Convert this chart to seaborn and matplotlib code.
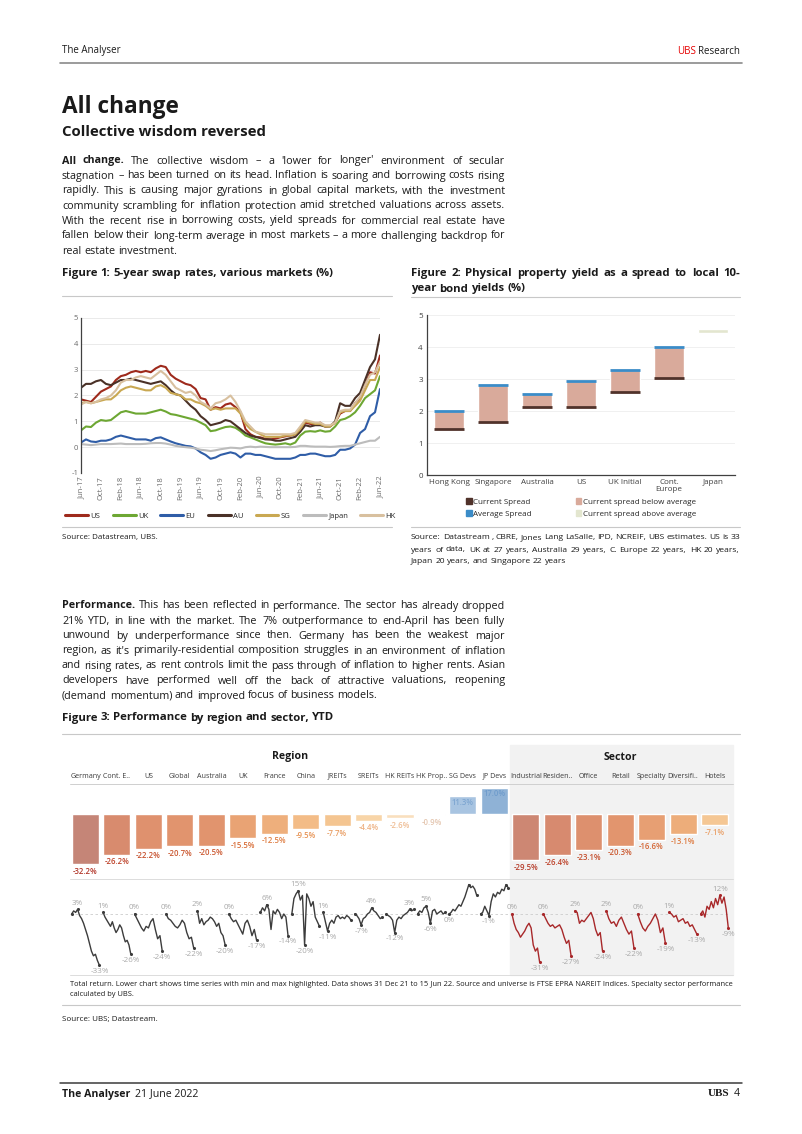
import numpy as np
import pandas as pd
import matplotlib
matplotlib.use("Agg")
import matplotlib.pyplot as plt
import seaborn as sns
from matplotlib.lines import Line2D
from matplotlib.patches import Rectangle, Patch
from matplotlib.colors import LinearSegmentedColormap, Normalize
import matplotlib.transforms as mtransforms

# ---------------- data ----------------
# Figure 1: 5-year swap rates, monthly Jun-17 .. Jun-22
tick_labels = ["Jun-17", "Oct-17", "Feb-18", "Jun-18", "Oct-18", "Feb-19", "Jun-19", "Oct-19",
               "Feb-20", "Jun-20", "Oct-20", "Feb-21", "Jun-21", "Oct-21", "Feb-22", "Jun-22"]
us = [1.85, 1.80, 1.75, 1.95, 2.15, 2.25, 2.35,
      2.60, 2.75, 2.80, 2.90, 2.95, 2.90, 2.95, 2.90, 3.05, 3.15, 3.10, 2.80,
      2.65, 2.55, 2.45, 2.40, 2.25, 1.90, 1.85, 1.45, 1.55, 1.50, 1.65, 1.70,
      1.55, 1.35, 0.70, 0.50, 0.40, 0.38, 0.32, 0.30, 0.33, 0.38, 0.42, 0.45,
      0.50, 0.70, 0.95, 0.90, 0.88, 0.95, 0.80, 0.82, 0.95, 1.30, 1.40, 1.40,
      1.70, 1.90, 2.40, 2.90, 2.85, 3.55]
uk = [0.65, 0.80, 0.78, 0.95, 1.05, 1.02, 1.05,
      1.20, 1.35, 1.40, 1.35, 1.30, 1.30, 1.30, 1.35, 1.40, 1.45, 1.38, 1.28,
      1.25, 1.20, 1.15, 1.10, 1.05, 0.95, 0.85, 0.62, 0.65, 0.72, 0.78, 0.80,
      0.75, 0.62, 0.45, 0.38, 0.30, 0.22, 0.15, 0.12, 0.10, 0.12, 0.15, 0.10,
      0.18, 0.45, 0.60, 0.62, 0.60, 0.65, 0.60, 0.62, 0.80, 1.05, 1.10, 1.20,
      1.35, 1.60, 1.90, 2.05, 2.20, 2.75]
eu = [0.18, 0.30, 0.22, 0.20, 0.25, 0.25, 0.30,
      0.40, 0.45, 0.40, 0.35, 0.30, 0.30, 0.30, 0.25, 0.35, 0.38, 0.30, 0.22,
      0.15, 0.10, 0.05, 0.03, -0.05, -0.20, -0.30, -0.45, -0.40, -0.30, -0.25, -0.20,
      -0.25, -0.40, -0.25, -0.25, -0.30, -0.30, -0.35, -0.40, -0.45, -0.45, -0.45, -0.45,
      -0.40, -0.30, -0.30, -0.25, -0.25, -0.30, -0.35, -0.35, -0.30, -0.10, -0.10, -0.05,
      0.10, 0.55, 0.70, 1.20, 1.35, 2.25]
au = [2.30, 2.45, 2.45, 2.55, 2.60, 2.45, 2.40,
      2.50, 2.60, 2.60, 2.65, 2.60, 2.55, 2.50, 2.45, 2.50, 2.55, 2.40, 2.20,
      2.05, 2.00, 1.80, 1.60, 1.45, 1.20, 1.05, 0.85, 0.90, 0.95, 1.05, 1.00,
      0.85, 0.70, 0.55, 0.45, 0.40, 0.35, 0.30, 0.30, 0.25, 0.25, 0.30, 0.35,
      0.40, 0.60, 0.85, 0.80, 0.85, 0.85, 0.80, 0.80, 1.00, 1.70, 1.60, 1.60,
      1.90, 2.10, 2.60, 3.10, 3.40, 4.35]
sg = [1.70, 1.75, 1.70, 1.75, 1.80, 1.85, 1.85,
      2.00, 2.20, 2.30, 2.35, 2.30, 2.25, 2.20, 2.20, 2.35, 2.40, 2.30, 2.10,
      2.05, 2.00, 1.85, 1.85, 1.75, 1.70, 1.60, 1.45, 1.50, 1.45, 1.50, 1.50,
      1.50, 1.30, 0.90, 0.70, 0.60, 0.50, 0.40, 0.40, 0.40, 0.40, 0.45, 0.45,
      0.50, 0.70, 1.00, 0.95, 0.90, 0.90, 0.80, 0.80, 0.95, 1.35, 1.40, 1.40,
      1.60, 1.80, 2.20, 2.60, 2.60, 3.10]
japan = [0.12, 0.10, 0.08, 0.10, 0.12, 0.12, 0.12,
         0.13, 0.14, 0.12, 0.12, 0.12, 0.12, 0.13, 0.15, 0.16, 0.16, 0.14, 0.10,
         0.05, 0.02, 0.00, -0.02, -0.05, -0.10, -0.12, -0.15, -0.12, -0.08, -0.05, -0.02,
         -0.03, -0.05, 0.00, 0.02, 0.00, 0.02, 0.01, 0.00, 0.00, 0.00, 0.00, 0.00,
         0.01, 0.05, 0.05, 0.03, 0.02, 0.02, 0.02, 0.01, 0.02, 0.04, 0.05, 0.05,
         0.10, 0.15, 0.20, 0.25, 0.25, 0.40]
hk = [1.65, 1.75, 1.70, 1.75, 1.85, 1.90, 2.00,
      2.20, 2.50, 2.60, 2.60, 2.70, 2.75, 2.70, 2.65, 2.80, 2.95, 2.80, 2.55,
      2.30, 2.20, 2.10, 2.15, 2.00, 1.75, 1.65, 1.50, 1.70, 1.75, 1.85, 2.00,
      1.75, 1.40, 1.00, 0.80, 0.60, 0.55, 0.50, 0.50, 0.50, 0.50, 0.50, 0.50,
      0.55, 0.80, 1.05, 1.00, 0.95, 0.95, 0.85, 0.85, 0.95, 1.40, 1.45, 1.45,
      1.70, 1.95, 2.40, 2.80, 2.90, 3.30]

# Figure 2: property yield spread to 10y bond
markets2 = ["Hong Kong", "Singapore", "Australia", "US", "UK Initial", "Cont.\nEurope", "Japan"]
current_spread = [1.45, 1.65, 2.12, 2.13, 2.60, 3.02, 4.55]
average_spread = [2.00, 2.82, 2.52, 2.95, 3.28, 4.00, 4.45]

# Figure 3: YTD performance
perf_labels = ["Germany", "Cont. E..", "US", "Global", "Australia", "UK", "France", "China",
               "JREITs", "SREITs", "HK REITs", "HK Prop..", "SG Devs", "JP Devs",
               "Industrial", "Residen..", "Office", "Retail", "Specialty", "Diversifi..", "Hotels"]
perf_values = [-32.2, -26.2, -22.2, -20.7, -20.5, -15.5, -12.5, -9.5, -7.7, -4.4, -2.6, -0.9,
               11.3, 17.0, -29.5, -26.4, -23.1, -20.3, -16.6, -13.1, -7.1]
n_region = 14
spark_series = [
    [0, 2, 1, 3, -1, -3, -6, -10, -14, -19, -24, -27, -26, -30, -33],
    [1, -2, -4, -6, -8, -5, -9, -12, -10, -7, -9, -14, -18, -17, -20, -26],
    [0, -3, -6, -9, -11, -8, -9, -5, -3, -10, -16, -14, -24],
    [0, -3, -4, -6, -8, -9, -7, -4, -6, -12, -16, -15, -22],
    [2, -6, -3, -7, -5, -4, -2, -3, -5, -8, -6, -12, -14, -20],
    [0, -3, -5, -4, -7, -10, -13, -6, -4, -8, -14, -10, -17],
    [1, 4, 2, 6, 3, -10, 2, 0, 3, 1, -3, 0, -2, -14],
    [0, 10, 13, 15, 9, 12, -20, 13, 10, 5, 8, -2, -5, -8],
    [1, -5, -11, -6, -4, -6, -2, -1, -3, -2, -3, -1, -2, -4],
    [0, -1, -3, -7, -3, -2, 0, 1, 4, 2, 1, -1, -3, -2],
    [0, -1, -2, -4, -12, -4, -2, -3, -1, 0, 1, 3, 2, 3],
    [0, 2, 1, 4, 5, 1, -6, 2, 3, 0, 1, 2, 0, 1],
    [0, 1, 3, 2, 4, 6, 5, 8, 11, 15, 19, 17, 18, 16, 12],
    [0, 1, 5, 2, -1, 8, 13, 11, 14, 13, 16, 15, 19, 17],
    [0, -6, -10, -12, -15, -13, -11, -8, -6, -9, -20, -24, -22, -31],
    [0, -3, -6, -8, -7, -9, -8, -7, -10, -15, -19, -17, -27],
    [2, 1, -6, -4, -5, -3, -1, 1, -3, -10, -14, -12, -24],
    [2, -3, -6, -5, -8, -4, -2, -6, -10, -13, -11, -22],
    [0, -5, -9, -11, -8, -6, -3, 0, -4, -12, -9, -19],
    [1, 0, -2, -1, -5, -4, -3, -6, -5, -8, -7, -10, -13],
    [0, 2, -2, 5, 3, 8, 4, 10, 6, 12, 7, 11, 3, -9],
]

intro_lines = [
    "All change. The collective wisdom \u2013 a 'lower for longer' environment of secular",
    "stagnation \u2013 has been turned on its head. Inflation is soaring and borrowing costs rising",
    "rapidly. This is causing major gyrations in global capital markets, with the investment",
    "community scrambling for inflation protection amid stretched valuations across assets.",
    "With the recent rise in borrowing costs, yield spreads for commercial real estate have",
    "fallen below their long-term average in most markets \u2013 a more challenging backdrop for",
    "real estate investment.",
]
perf_lines = [
    "Performance. This has been reflected in performance. The sector has already dropped",
    "21% YTD, in line with the market. The 7% outperformance to end-April has been fully",
    "unwound by underperformance since then. Germany has been the weakest major",
    "region, as it's primarily-residential composition struggles in an environment of inflation",
    "and rising rates, as rent controls limit the pass through of inflation to higher rents. Asian",
    "developers have performed well off the back of attractive valuations, reopening",
    "(demand momentum) and improved focus of business models.",
]

# ---------------- page ----------------
W, H = 802, 1134
sns.set_theme(style="white")
plt.rcParams["font.family"] = ["Open Sans", "DejaVu Sans"]
plt.rcParams["axes.unicode_minus"] = False
fig = plt.figure(figsize=(W / 100, H / 100), dpi=100)
fig.patch.set_facecolor("white")
renderer = fig.canvas.get_renderer()
INK = "#1a1a1a"


def box(x0, y0, x1, y1):
    return [x0 / W, 1 - y1 / H, (x1 - x0) / W, (y1 - y0) / H]


def txt(x, y, s, **kw):
    kw.setdefault("va", "center")
    kw.setdefault("color", INK)
    return fig.text(x / W, 1 - y / H, s, **kw)


def hrule(x0, x1, y, color="#c8c8c8", lw=0.8):
    fig.add_artist(Line2D([x0 / W, x1 / W], [1 - y / H] * 2, transform=fig.transFigure,
                          color=color, lw=lw))


def paragraph(lines, x0, x1, y0, dy, size, n_bold=0, weight="normal"):
    space = size * 100 / 72 * 0.26
    for k, line in enumerate(lines):
        words = line.split(" ")
        y = y0 + k * dy
        items = []
        for j, w in enumerate(words):
            wt = "bold" if (k == 0 and j < n_bold) else weight
            items.append(txt(x0, y, w, fontsize=size, weight=wt, ha="left"))
        widths = [t.get_window_extent(renderer).width for t in items]
        if k == len(lines) - 1 or len(words) == 1:
            gap = space
        else:
            gap = max((x1 - x0 - sum(widths)) / (len(words) - 1), space * 0.6)
        x = x0
        for t, w in zip(items, widths):
            t.set_x(x / W)
            x += w + gap


# header
txt(62, 51, "The Analyser", fontsize=7)
r = txt(740, 51, "Research", fontsize=7, ha="right")
rw = r.get_window_extent(renderer).width
txt(740 - rw - 2, 51, "UBS", fontsize=7, ha="right", color="#e60000")
hrule(60, 742, 63, color="#8a8a8a", lw=1.2)

txt(62, 107, "All change", fontsize=16.3, weight="bold")
txt(62, 132, "Collective wisdom reversed", fontsize=10.8, weight="bold")
paragraph(intro_lines, 62, 505, 161, 15, 7.75, n_bold=2)

# ---------------- Figure 1 ----------------
paragraph(["Figure 1: 5-year swap rates, various markets (%)"], 62, 392, 274, 15, 8.2, weight="bold")
hrule(62, 392, 296)
hrule(62, 392, 527)
txt(62, 538, "Source: Datastream, UBS.", fontsize=5.8)

names = ["US", "UK", "EU", "AU", "SG", "Japan", "HK"]
series = [us, uk, eu, au, sg, japan, hk]
pal = {"US": "#9e2a1c", "UK": "#6da733", "EU": "#2f5da7", "AU": "#4a3127",
       "SG": "#c9a852", "Japan": "#bcbcbc", "HK": "#d8c09f"}
df1 = pd.DataFrame({
    "month": np.tile(np.arange(len(us)), len(names)),
    "rate": np.concatenate(series),
    "market": np.repeat(names, len(us)),
})
ax1 = fig.add_axes(box(81, 318, 380, 473))
sns.lineplot(data=df1, x="month", y="rate", hue="market", hue_order=names, palette=pal,
             linewidth=1.5, ax=ax1)
ax1.set_xlim(0, len(us) - 1)
ax1.set_ylim(-1, 5)
ax1.set_yticks(range(-1, 6))
ax1.set_xticks(np.arange(0, len(us), 4))
ax1.set_xticklabels(tick_labels, rotation=90)
ax1.tick_params(labelsize=5.5, colors="#6a6a6a", length=0, pad=2)
ax1.set_xlabel("")
ax1.set_ylabel("")
ax1.grid(axis="y", color="#e6e6e6", lw=0.6)
for s in ["top", "right", "bottom"]:
    ax1.spines[s].set_visible(False)
ax1.spines["left"].set_color("#404040")
ax1.spines["left"].set_linewidth(0.9)
sns.move_legend(ax1, "center", bbox_to_anchor=(0.5, (473 - 516) / 155), ncol=7, title=None,
                frameon=False, fontsize=5.5, handlelength=3.0, columnspacing=1.6,
                handletextpad=0.3)
for line in ax1.get_legend().get_lines():
    line.set_linewidth(2.2)

# ---------------- Figure 2 ----------------
paragraph(["Figure 2: Physical property yield as a spread to local 10-", "year bond yields (%)"],
          411, 740, 274, 15, 8.2, weight="bold")
hrule(411, 740, 297)
hrule(411, 740, 527)
paragraph(["Source: Datastream , CBRE, Jones Lang LaSalle, IPD, NCREIF, UBS estimates. US is 33",
           "years of data, UK at 27 years, Australia 29 years, C. Europe 22 years, HK 20 years,",
           "Japan 20 years, and Singapore 22 years"], 411, 740, 538, 12, 6.1)

ax2 = fig.add_axes(box(427, 315, 735, 475))
xs = np.arange(len(markets2))
cur = np.array(current_spread)
avg = np.array(average_spread)
below = cur < avg
ax2.bar(xs[below], (avg - cur)[below], bottom=cur[below], width=0.68, color="#d9aa9b", zorder=2)
ax2.bar(xs[~below], (cur - avg)[~below], bottom=avg[~below], width=0.68, color="#e3e6cf", zorder=2)
ax2.hlines(cur[below], xs[below] - 0.34, xs[below] + 0.34, color="#50322a", lw=2, zorder=3)
ax2.hlines(avg[below], xs[below] - 0.34, xs[below] + 0.34, color="#3b8cc8", lw=2, zorder=3)
ax2.set_xlim(-0.5, len(markets2) - 0.5)
ax2.set_ylim(0, 5)
ax2.set_xticks(xs)
ax2.set_xticklabels(markets2, linespacing=0.95)
ax2.tick_params(labelsize=5.8, colors="#404040", length=0, pad=3)
ax2.grid(axis="y", color="#eeeeee", lw=0.6)
for s in ["top", "right"]:
    ax2.spines[s].set_visible(False)
for s in ["left", "bottom"]:
    ax2.spines[s].set_color("#404040")
    ax2.spines[s].set_linewidth(0.9)
handles2 = [Patch(color="#50322a", label="Current Spread"),
            Patch(color="#3b8cc8", label="Average Spread"),
            Patch(color="#d9aa9b", label="Current spread below average"),
            Patch(color="#e3e6cf", label="Current spread above average")]
ax2.legend(handles=handles2, loc="center", bbox_to_anchor=(0.5, (475 - 508) / 160), ncol=2,
           frameon=False, fontsize=5.8, handlelength=0.7, handleheight=0.7,
           handletextpad=0.15, columnspacing=5.5, labelspacing=0.55)

# ---------------- Performance text ----------------
paragraph(perf_lines, 62, 505, 606, 15, 7.75, n_bold=1)

# ---------------- Figure 3 ----------------
paragraph(["Figure 3: Performance by region and sector, YTD"], 62, 740, 718, 15, 8.2, weight="bold")
hrule(62, 740, 734)

fig.add_artist(Rectangle((510 / W, 1 - 975 / H), (733 - 510) / W, (975 - 745) / H,
                         transform=fig.transFigure, color="#f2f2f2", zorder=-1))

bar_cmap = LinearSegmentedColormap.from_list("perf", [
    (0.00, "#c38478"), (0.14, "#d98b6e"), (0.26, "#e2956e"), (0.36, "#eaa575"),
    (0.46, "#f2ba84"), (0.56, "#f7d1a0"), (0.64, "#fbe9d2"), (0.66, "#f3eee9"),
    (0.88, "#a9c5e2"), (1.00, "#8fb2d6")])
text_cmap = LinearSegmentedColormap.from_list("perf_txt", [
    (0.00, "#b0352a"), (0.14, "#bf452c"), (0.26, "#cc5a30"), (0.36, "#d9703a"),
    (0.46, "#e6904f"), (0.56, "#edae7c"), (0.64, "#f1c8a8"), (0.66, "#9cbbdc"),
    (1.00, "#6f9ccc")])
norm = Normalize(-33, 17)
bar_colors = [bar_cmap(norm(v)) for v in perf_values]

axb = fig.add_axes(box(69.8, 783, 730.2, 870))
axb.patch.set_alpha(0)
sns.barplot(x=perf_labels, y=perf_values, hue=perf_labels, palette=bar_colors, legend=False,
            width=0.86, saturation=1, ax=axb)
axb.set_xlim(-0.5, len(perf_values) - 0.5)
axb.set_ylim(-35.9, 19.9)
axb.axis("off")
for i, v in enumerate(perf_values):
    c = text_cmap(norm(v))
    if v < 0:
        axb.text(i, v - 1.6, f"{v:.1f}%", ha="center", va="top", fontsize=5.6, color=c,
                 weight="semibold", clip_on=False)
    else:
        axb.text(i, v - 1.2, f"{v:.1f}%", ha="center", va="top", fontsize=5.6, color=c,
                 weight="semibold")

# column headers
tr = mtransforms.blended_transform_factory(axb.transData, fig.transFigure)
for i, lab in enumerate(perf_labels):
    axb.text(i, 1 - 776 / H, lab, transform=tr, ha="center", va="center", fontsize=5.1,
             color="#3a3a3a")
axb.text((n_region - 1) / 2, 1 - 757 / H, "Region", transform=tr, ha="center", va="center",
         fontsize=7.6, weight="bold", color=INK)
axb.text((n_region + len(perf_values) - 1) / 2, 1 - 757 / H, "Sector", transform=tr,
         ha="center", va="center", fontsize=7.6, weight="bold", color=INK)
hrule(70, 733, 784, color="#cfcfcf", lw=0.7)
hrule(70, 733, 879, color="#dcdcdc", lw=0.7)
hrule(70, 733, 975, color="#dcdcdc", lw=0.7)

# sparklines
axs = fig.add_axes(box(69.8, 879, 730.2, 975))
axs.patch.set_alpha(0)
axs.axhline(0, color="#cccccc", lw=0.6, ls=(0, (3, 3)))
top_lim = 22.6
for i, vals in enumerate(spark_series):
    vals = np.array(vals, dtype=float)
    xx = i - 0.44 + np.linspace(0, 0.88, len(vals))
    col = "#3c3c3c" if i < n_region else "#a8282a"
    sns.lineplot(x=xx, y=vals, color=col, linewidth=1.0, ax=axs)
    imax, imin = int(np.argmax(vals)), int(np.argmin(vals))
    pts = sorted({0, len(vals) - 1, imax, imin})
    axs.scatter(xx[pts], vals[pts], s=5, color=col, zorder=3, linewidths=0)
    if vals[imax] < 16.5:
        axs.text(xx[imax], vals[imax] + 1.8, f"{vals[imax]:.0f}%", ha="center", va="bottom",
                 fontsize=5.8, color="#a9a9a9")
    axs.text(xx[imin], vals[imin] - 1.8, f"{vals[imin]:.0f}%", ha="center", va="top",
             fontsize=5.8, color="#a9a9a9")
axs.set_xlim(-0.5, len(perf_values) - 0.5)
axs.set_ylim(-39.4, top_lim)
axs.axis("off")

txt(70, 984, "Total return. Lower chart shows time series with min and max highlighted. Data shows "
    "31 Dec 21 to 15 Jun 22. Source and universe is FTSE EPRA NAREIT Indices. Specialty sector "
    "performance", fontsize=5.4)
txt(70, 995, "calculated by UBS.", fontsize=5.4)
hrule(62, 740, 1005)
txt(62, 1020, "Source: UBS; Datastream.", fontsize=5.8)

# footer
hrule(60, 742, 1083, color="#3a3a3a", lw=1.1)
f1 = txt(62, 1094, "The Analyser", fontsize=7.6, weight="bold")
fw = f1.get_window_extent(renderer).width
txt(62 + fw + 5, 1094, "21 June 2022", fontsize=7.6)
txt(740, 1094, "4", fontsize=7.6, ha="right")
txt(729, 1094, "UBS", fontsize=8, ha="right", weight="bold", family="Liberation Serif")

fig.savefig("out.png", dpi=100, facecolor="white")
